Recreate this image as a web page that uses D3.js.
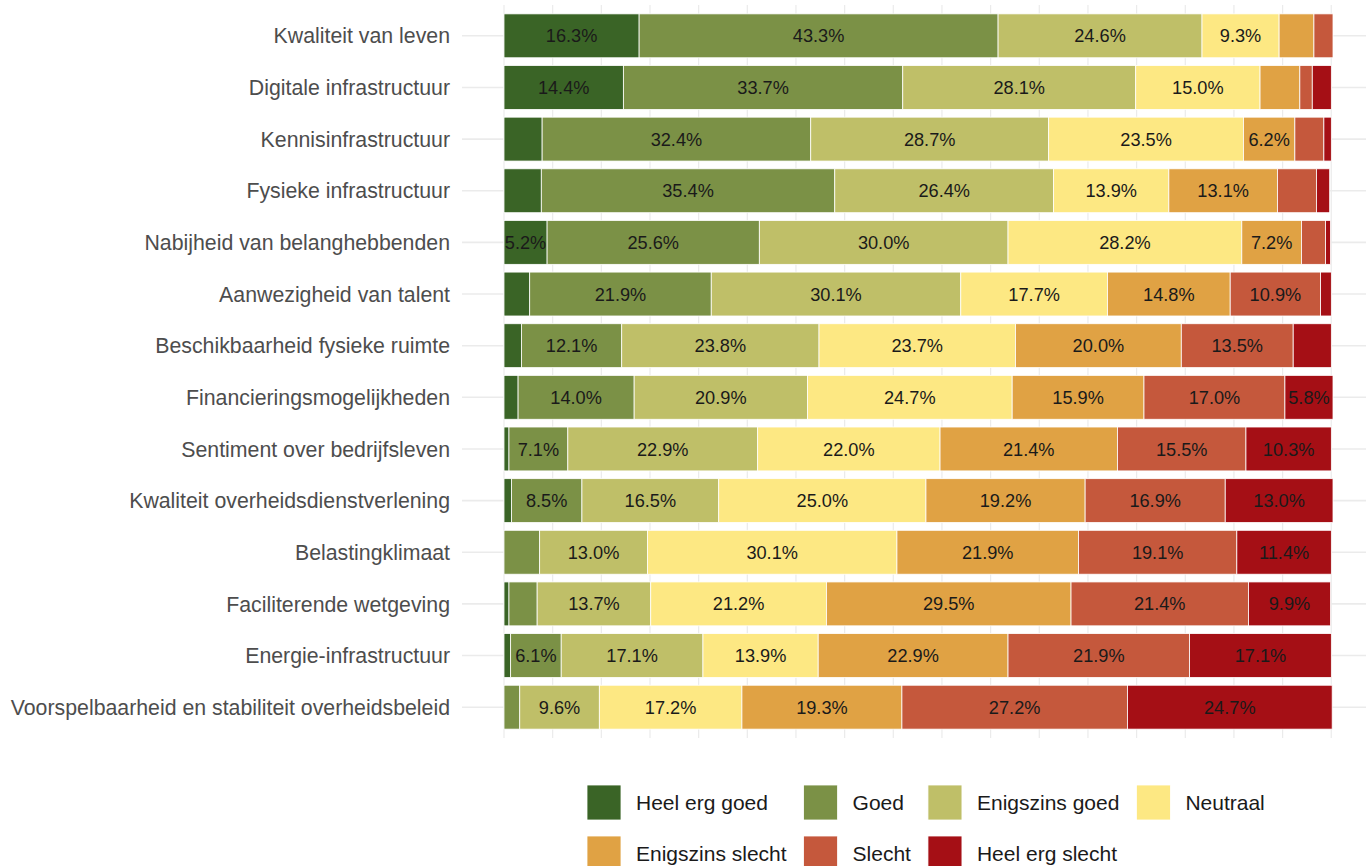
<!DOCTYPE html>
<html>
<head>
<meta charset="utf-8">
<script src="https://cdn.jsdelivr.net/npm/d3@7"></script>
<style>
body { margin: 0; background: #fff; font-family: "Liberation Sans", Arial, sans-serif; }
</style>
</head>
<body>
<div class="chart"></div>
<script>
var categories = ["Kwaliteit van leven", "Digitale infrastructuur", "Kennisinfrastructuur", "Fysieke infrastructuur",
	"Nabijheid van belanghebbenden", "Aanwezigheid van talent", "Beschikbaarheid fysieke ruimte", "Financieringsmogelijkheden",
	"Sentiment over bedrijfsleven", "Kwaliteit overheidsdienstverlening", "Belastingklimaat", "Faciliterende wetgeving",
	"Energie-infrastructuur", "Voorspelbaarheid en stabiliteit overheidsbeleid"];

var levels = ["Heel erg goed", "Goed", "Enigszins goed", "Neutraal", "Enigszins slecht", "Slecht", "Heel erg slecht"];
var colors = ["#3a6426", "#7b9146", "#bfbf68", "#fde883", "#e0a244", "#c5583c", "#a50f15"];

// percentages per level, same order as categories
var heelErgGoed    = [16.3, 14.4, 4.6, 4.5, 5.2, 3.1, 2.1, 1.7, 0.6, 0.9, 0.0, 0.6, 0.8, 0.0];
var goed           = [43.3, 33.7, 32.4, 35.4, 25.6, 21.9, 12.1, 14.0, 7.1, 8.5, 4.3, 3.4, 6.1, 1.9];
var enigszinsGoed  = [24.6, 28.1, 28.7, 26.4, 30.0, 30.1, 23.8, 20.9, 22.9, 16.5, 13.0, 13.7, 17.1, 9.6];
var neutraal       = [9.3, 15.0, 23.5, 13.9, 28.2, 17.7, 23.7, 24.7, 22.0, 25.0, 30.1, 21.2, 13.9, 17.2];
var enigszinsSlecht= [4.2, 4.8, 6.2, 13.1, 7.2, 14.8, 20.0, 15.9, 21.4, 19.2, 21.9, 29.5, 22.9, 19.3];
var slecht         = [2.3, 1.5, 3.5, 4.7, 2.9, 10.9, 13.5, 17.0, 15.5, 16.9, 19.1, 21.4, 21.9, 27.2];
var heelErgSlecht  = [0.0, 2.3, 0.9, 1.6, 0.6, 1.3, 4.6, 5.8, 10.3, 13.0, 11.4, 9.9, 17.1, 24.7];

var seriesValues = [heelErgGoed, goed, enigszinsGoed, neutraal, enigszinsSlecht, slecht, heelErgSlecht];
var gridStep = 5.87;
var labelMin = 5;

var width = 1366, height = 866;

var rows = categories.map(function(c, i) {
	var r = { category: c };
	levels.forEach(function(l, j) { r[l] = seriesValues[j][i]; });
	return r;
});

var x = d3.scaleLinear().domain([0, 100]).range([504, 1333]);
var y = d3.scaleBand().domain(categories).range([10, 733]).paddingInner(0.15).paddingOuter(0.075);
var color = d3.scaleOrdinal().domain(levels).range(colors);

var svg = d3.select(".chart").append("svg")
	.attr("width", width)
	.attr("height", height)
	.style("font-family", "'Liberation Sans', Arial, sans-serif");

// grid
svg.append("g").selectAll("line").data(categories).enter().append("line")
	.attr("x1", 462).attr("x2", width)
	.attr("y1", function(d) { return y(d) + y.bandwidth() / 2; })
	.attr("y2", function(d) { return y(d) + y.bandwidth() / 2; })
	.attr("stroke", "#ebebeb").attr("stroke-width", 1.6);

svg.append("g").selectAll("line").data(d3.range(0, 18).map(function(i) { return i * gridStep; })).enter().append("line")
	.attr("x1", function(d) { return x(d); }).attr("x2", function(d) { return x(d); })
	.attr("y1", 5).attr("y2", 738)
	.attr("stroke", "#ebebeb").attr("stroke-width", 1.2);

// bars
var stacked = d3.stack().keys(levels)(rows);

var layer = svg.append("g").selectAll("g").data(stacked).enter().append("g")
	.attr("fill", function(d) { return color(d.key); });

layer.selectAll("rect").data(function(d) { return d.filter(function(s) { return s[1] > s[0]; }); }).enter().append("rect")
	.attr("x", function(d) { return x(d[0]); })
	.attr("y", function(d) { return y(d.data.category); })
	.attr("width", function(d) { return x(d[1]) - x(d[0]); })
	.attr("height", y.bandwidth())
	.attr("stroke", "#ffffff").attr("stroke-width", 0.8);

layer.selectAll("text").data(function(d) { return d.filter(function(s) { return s[1] - s[0] >= labelMin; }); }).enter().append("text")
	.attr("x", function(d) { return x((d[0] + d[1]) / 2); })
	.attr("y", function(d) { return y(d.data.category) + y.bandwidth() / 2; })
	.attr("dy", "0.36em")
	.attr("text-anchor", "middle")
	.attr("fill", "#1a1a1a")
	.style("font-size", "18.2px")
	.text(function(d) { return (d[1] - d[0]).toFixed(1) + "%"; });

// category labels
svg.append("g").selectAll("text").data(categories).enter().append("text")
	.attr("x", 450)
	.attr("y", function(d) { return y(d) + y.bandwidth() / 2; })
	.attr("dy", "0.36em")
	.attr("text-anchor", "end")
	.attr("fill", "#4d4d4d")
	.style("font-size", "21.3px")
	.text(function(d) { return d; });

// legend, 4 columns, 2 rows
var legend = svg.append("g");
var colX = [587];
var tmp = svg.append("text").style("font-size", "21px");
var colWidth = [0, 0, 0, 0];
levels.forEach(function(l, i) {
	tmp.text(l);
	var w = tmp.node().getComputedTextLength();
	if (w > colWidth[i % 4]) colWidth[i % 4] = w;
});
tmp.remove();
for (var c = 1; c < 4; c++) {
	colX.push(colX[c - 1] + 34 + 15 + colWidth[c - 1] + 17);
}

levels.forEach(function(l, i) {
	var cx = colX[i % 4];
	var cy = 785 + Math.floor(i / 4) * 51;
	legend.append("rect").attr("x", cx).attr("y", cy).attr("width", 34).attr("height", 35)
		.attr("fill", color(l)).attr("stroke", "#ffffff").attr("stroke-width", 0.8);
	legend.append("text").attr("x", cx + 49).attr("y", cy + 17.5).attr("dy", "0.36em")
		.attr("fill", "#1a1a1a").style("font-size", "21px").text(l);
});
</script>
</body>
</html>
